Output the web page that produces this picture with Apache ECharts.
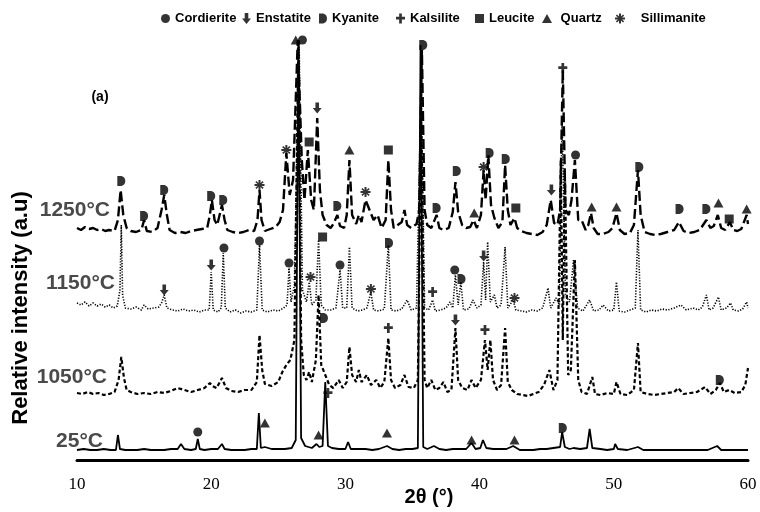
<!DOCTYPE html>
<html>
<head>
<meta charset="utf-8">
<script src="https://cdn.jsdelivr.net/npm/echarts@6/dist/echarts.min.js"></script>
<style>
  html, body { margin: 0; padding: 0; background: #fff; }
  #main { width: 760px; height: 512px; }
</style>
</head>
<body>
<div id="main"></div>
<script>
// XRD patterns, stacked (relative intensity, a.u.)
var xTicks = [10, 20, 30, 40, 50, 60];
var sampleNames = ['25°C', '1050°C', '1150°C', '1250°C'];

var trace25 = [[10,10],[10.5,11],[11,10],[11.5,10],[12,11],[12.5,10],[12.9,10],[13.05,25],[13.2,11],[13.6,10],[14,10],[14.5,10],[15,11],[15.5,10],[16,10],[16.5,10],[17,11],[17.5,11],[17.75,16],[18,11],[18.5,10],[18.85,11],[19.0,21],[19.15,11],[19.5,10],[20,11],[20.5,11],[20.8,16],[21.0,11],[21.5,10],[22,10],[22.5,10],[23,11],[23.4,11],[23.55,47],[23.7,12],[24,13],[24.5,11],[25,11],[25.5,11],[26,12],[26.3,20],[26.5,420],[26.7,22],[27,14],[27.5,12],[27.85,16],[28.05,13],[28.3,14],[28.5,78],[28.7,14],[29,12],[29.5,11],[30,11],[30.2,18],[30.4,11],[31,11],[31.5,11],[32,10],[32.5,11],[33.1,14],[33.5,11],[34,10],[34.5,11],[35,11],[35.4,12],[35.6,415],[35.8,13],[36.1,11],[36.6,14],[37,11],[37.5,10],[38,11],[38.5,11],[39,11],[39.4,17],[39.7,11],[40.05,12],[40.25,20],[40.5,12],[41,11],[41.5,11],[42,11],[42.5,14],[43,10],[43.5,10],[44,10],[44.5,11],[45,11],[45.5,12],[46,13],[46.15,28],[46.35,13],[46.7,11],[47,12],[47.5,11],[48,12],[48.2,31],[48.4,12],[49,11],[49.5,10],[50,11],[50.1,16],[50.3,11],[51,10],[51.8,13],[52.2,10],[53,10],[54,10],[55,10],[56,10],[57,10],[57.7,14],[58,10],[59,10],[60,10]];

var trace1050 = [[10,67],[10.4,66],[10.8,68],[11.2,66],[11.6,67],[12,65],[12.4,66],[12.8,68],[13.1,80],[13.3,103],[13.5,82],[13.7,70],[14,68],[14.5,66],[15,67],[15.5,66],[16,68],[16.5,67],[17,69],[17.5,72],[18,70],[18.5,68],[19,70],[19.5,72],[19.9,77],[20.1,74],[20.4,72],[20.8,82],[21.1,72],[21.5,69],[22,68],[22.5,70],[23,70],[23.4,78],[23.6,125],[23.8,90],[24,76],[24.5,74],[25,78],[25.3,88],[25.6,95],[25.9,100],[26.2,120],[26.5,420],[26.7,120],[26.9,85],[27.1,80],[27.3,88],[27.5,78],[27.8,100],[28.0,165],[28.2,95],[28.5,85],[28.8,75],[29.1,72],[29.5,80],[29.8,72],[30.1,78],[30.3,113],[30.5,85],[30.8,78],[31.0,90],[31.2,78],[31.6,85],[31.9,75],[32.3,80],[32.6,72],[32.9,78],[33.2,122],[33.4,80],[33.7,72],[34.1,75],[34.4,85],[34.7,73],[35.1,72],[35.4,80],[35.65,350],[35.9,80],[36.1,72],[36.4,80],[36.7,70],[37,72],[37.3,78],[37.6,68],[37.9,70],[38.2,132],[38.4,80],[38.7,72],[39.1,70],[39.4,80],[39.7,72],[40.1,80],[40.4,120],[40.6,90],[40.8,120],[41.0,80],[41.3,70],[41.6,75],[41.9,132],[42.1,78],[42.4,70],[42.8,66],[43.2,65],[43.6,64],[44,66],[44.4,68],[44.8,75],[45.2,90],[45.5,70],[45.8,80],[46.05,300],[46.2,120],[46.35,290],[46.6,85],[46.8,90],[47.1,200],[47.35,80],[47.6,68],[48,66],[48.4,83],[48.6,66],[49,65],[49.5,67],[50,66],[50.2,78],[50.5,66],[51,65],[51.5,70],[51.8,117],[52.0,68],[52.5,66],[53,65],[53.5,66],[54,67],[54.5,68],[54.8,72],[55.2,66],[55.7,67],[56.2,68],[56.8,73],[57.2,66],[57.6,70],[57.9,77],[58.2,68],[58.6,70],[59,67],[59.5,68],[59.8,75],[60,92]];

var trace1150 = [[10,157],[10.3,155],[10.6,158],[10.9,154],[11.2,157],[11.5,154],[11.8,156],[12.1,153],[12.4,155],[12.7,152],[13.0,154],[13.2,170],[13.3,235],[13.4,165],[13.6,152],[14,151],[14.4,153],[14.8,150],[15.0,155],[15.3,151],[15.7,152],[16.1,153],[16.3,157],[16.5,165],[16.7,152],[17.1,150],[17.5,149],[17.9,151],[18.3,149],[18.7,150],[19.1,148],[19.5,150],[19.85,150],[20.0,188],[20.15,150],[20.5,148],[20.75,152],[20.9,207],[21.05,152],[21.4,148],[21.8,150],[22.2,147],[22.6,149],[23.0,148],[23.4,150],[23.6,215],[23.8,150],[24.2,148],[24.6,150],[25.0,149],[25.4,152],[25.65,155],[25.8,192],[25.95,158],[26.2,175],[26.55,420],[26.8,170],[27.1,158],[27.3,178],[27.5,155],[27.8,160],[28.0,220],[28.2,155],[28.5,150],[28.9,150],[29.3,152],[29.6,190],[29.8,152],[30.1,152],[30.3,213],[30.5,152],[30.9,149],[31.3,150],[31.6,152],[31.9,168],[32.1,150],[32.5,149],[32.9,151],[33.2,215],[33.4,150],[33.8,149],[34.2,151],[34.6,160],[34.9,150],[35.3,152],[35.65,380],[35.9,152],[36.2,150],[36.5,160],[36.7,149],[37.1,150],[37.5,152],[37.8,158],[38.0,152],[38.2,185],[38.4,155],[38.6,178],[38.8,150],[39.2,151],[39.5,160],[39.8,152],[40.1,155],[40.3,198],[40.45,160],[40.6,218],[40.8,158],[41.1,165],[41.3,152],[41.6,155],[41.9,213],[42.1,152],[42.5,160],[42.7,150],[43.1,149],[43.5,148],[43.9,150],[44.3,149],[44.7,152],[45.1,172],[45.3,152],[45.7,162],[45.95,155],[46.15,340],[46.4,165],[46.7,158],[47.0,200],[47.3,152],[47.7,149],[48.2,160],[48.5,149],[48.9,150],[49.2,155],[49.6,149],[50.0,150],[50.2,178],[50.4,149],[50.8,148],[51.2,150],[51.6,152],[51.8,230],[52.0,150],[52.4,148],[52.8,150],[53.2,149],[53.6,151],[54,150],[54.5,152],[55.0,155],[55.4,150],[55.9,152],[56.3,150],[56.6,153],[56.9,165],[57.1,150],[57.4,152],[57.8,163],[58.0,150],[58.4,152],[58.7,157],[58.9,150],[59.3,149],[59.6,151],[59.9,158],[60,152]];

var trace1250 = [[10,232],[10.3,230],[10.6,233],[10.9,231],[11.2,232],[11.5,230],[11.8,231],[12.1,229],[12.4,230],[12.8,229],[13.05,240],[13.25,270],[13.45,245],[13.7,232],[14.0,229],[14.4,228],[14.8,230],[15.0,240],[15.2,229],[15.6,228],[16.0,232],[16.3,250],[16.5,265],[16.7,245],[16.9,230],[17.3,227],[17.7,228],[18.1,227],[18.5,229],[18.9,230],[19.3,231],[19.7,232],[19.9,245],[20.05,260],[20.25,240],[20.45,235],[20.8,255],[21.0,240],[21.2,230],[21.6,228],[22.0,227],[22.4,228],[22.8,230],[23.2,229],[23.45,240],[23.6,270],[23.75,240],[24.0,229],[24.4,231],[24.8,233],[25.1,238],[25.35,250],[25.6,307],[25.85,265],[26.1,280],[26.45,420],[26.75,300],[26.95,260],[27.2,310],[27.45,260],[27.65,250],[27.9,342],[28.1,270],[28.3,245],[28.6,235],[28.9,232],[29.1,236],[29.4,245],[29.6,234],[29.9,232],[30.1,245],[30.3,300],[30.5,245],[30.8,236],[31.0,245],[31.2,238],[31.5,260],[31.8,250],[32.1,240],[32.4,245],[32.7,232],[33.0,240],[33.2,300],[33.4,250],[33.6,232],[33.9,235],[34.2,238],[34.4,250],[34.6,235],[34.9,232],[35.3,236],[35.5,250],[35.7,410],[35.9,250],[36.1,235],[36.4,232],[36.8,245],[37.0,232],[37.3,230],[37.7,232],[38.0,248],[38.2,278],[38.4,248],[38.7,235],[39.0,232],[39.3,233],[39.55,240],[39.8,232],[40.1,245],[40.3,290],[40.45,260],[40.65,305],[40.85,255],[41.1,242],[41.4,232],[41.7,238],[41.9,295],[42.1,250],[42.3,235],[42.6,242],[42.8,232],[43.1,229],[43.5,227],[43.9,226],[44.3,225],[44.7,228],[45.0,235],[45.3,260],[45.55,237],[45.8,235],[46.0,250],[46.2,390],[46.4,250],[46.65,245],[46.85,260],[47.1,300],[47.35,240],[47.6,240],[47.9,230],[48.1,235],[48.3,247],[48.5,232],[48.8,226],[49.2,226],[49.6,228],[49.9,232],[50.2,247],[50.45,230],[50.8,226],[51.2,227],[51.5,235],[51.8,290],[52.0,245],[52.3,228],[52.7,226],[53.1,225],[53.5,226],[54.0,228],[54.5,230],[54.85,238],[55.2,229],[55.6,227],[56.0,228],[56.4,230],[56.9,240],[57.2,232],[57.45,234],[57.75,245],[58.0,232],[58.3,230],[58.65,238],[58.9,230],[59.2,229],[59.5,231],[59.9,245],[60,236]];

// phase markers [2theta, intensity]
var cordierite = [[19.0,28],[20.95,212],[23.6,219],[25.8,197],[29.6,195],[38.15,190],[26.8,420],[47.15,305]];
var enstatite = [[16.5,170],[20.0,195],[40.3,204],[38.2,140],[27.9,352],[45.35,270]];
var kyanite = [[46.2,32],[28.4,142],[57.9,80],[33.25,217],[38.65,181],[13.3,279],[15.0,244],[16.5,270],[20.0,264],[20.9,260],[29.4,254],[35.8,415],[36.8,252],[38.3,289],[40.75,307],[41.95,301],[51.9,293],[54.9,251],[56.9,251]];
var kalsilite = [[28.7,67],[33.2,132],[40.4,130],[36.5,168],[46.2,392]];
var leucite = [[28.3,223],[27.3,318],[33.2,310],[42.7,252],[58.6,241]];
var quartz = [[24.0,37],[28.0,25],[33.1,27],[39.4,20],[42.6,20],[26.3,420],[30.3,310],[39.6,247],[48.35,253],[50.2,253],[57.8,257],[59.9,251]];
var sillimanite = [[27.4,183],[31.9,171],[42.6,162],[23.6,275],[25.6,310],[31.5,268],[40.3,293]];

var phaseNames = ['Cordierite', 'Enstatite', 'Kyanite', 'Kalsilite', 'Leucite', 'Quartz', 'Sillimanite'];
var phaseData = [cordierite, enstatite, kyanite, kalsilite, leucite, quartz, sillimanite];

var ARROW = 'path://M3,0 L7,0 L7,6 L10,6 L5,12 L0,6 L3,6 Z';
var DSHAPE = 'path://M0,0 L3,0 C6.5,0 8,2.5 8,5 C8,7.5 6.5,10 3,10 L0,10 Z';
var CROSS = 'path://M3.5,0 L6.5,0 L6.5,3.5 L10,3.5 L10,6.5 L6.5,6.5 L6.5,11 L3.5,11 L3.5,6.5 L0,6.5 L0,3.5 L3.5,3.5 Z';
var STAR = 'path://M4,0 L6,0 L6,3 L8,1 L9.2,2.2 L7,4 L10,4 L10,6 L7,6 L9.2,7.8 L8,9 L6,7 L6,10 L4,10 L4,7 L2,9 L0.8,7.8 L3,6 L0,6 L0,4 L3,4 L0.8,2.2 L2,1 L4,3 Z';
var phaseSymbols = ['circle', ARROW, DSHAPE, CROSS, 'rect', 'triangle', STAR];
var phaseSizes = [[9,9], [9,11], [8,10], [9,10], [9,9], [10,9], [10,10]];
var legendLeft = [156, 237, 314, 391, 470, 537, 610];
var legendText = ['Cordierite', 'Enstatite', 'Kyanite', 'Kalsilite', 'Leucite', ' Quartz', '   Sillimanite'];

var traceSeries = [
  { name: sampleNames[0], data: trace25, lineStyle: { color: '#000', width: 1.8, type: 'solid' } },
  { name: sampleNames[1], data: trace1050, lineStyle: { color: '#000', width: 2.2, type: [4, 2.5] } },
  { name: sampleNames[2], data: trace1150, lineStyle: { color: '#000', width: 1.6, type: [1.2, 1.6] } },
  { name: sampleNames[3], data: trace1250, lineStyle: { color: '#000', width: 2.4, type: [10, 4] } }
].map(function (s) {
  s.type = 'line';
  s.showSymbol = false;
  s.symbol = 'none';
  s.silent = true;
  s.z = 2;
  return s;
});

var markerSeries = phaseNames.map(function (n, i) {
  return {
    name: n,
    type: 'scatter',
    data: phaseData[i],
    symbol: phaseSymbols[i],
    symbolSize: phaseSizes[i],
    itemStyle: { color: '#000' },
    z: 5
  };
});

// one legend box per phase so each entry sits where it does in the figure
var legends = phaseNames.map(function (n, i) {
  return {
    data: [n],
    left: legendLeft[i],
    top: 7,
    itemWidth: phaseSizes[i][0],
    itemHeight: phaseSizes[i][1],
    selectedMode: false,
    formatter: function () { return legendText[i]; },
    textStyle: { fontFamily: 'Liberation Sans, Arial', fontWeight: 'bold', fontSize: 13, color: '#000' }
  };
});

var labelY = [441, 377, 283, 210];
var labelX = [103, 107, 115, 110];

var chart = echarts.init(document.getElementById('main'));
chart.setOption({
  animation: false,
  backgroundColor: '#fff',
  legend: legends,
  grid: { left: 77, right: 12, top: 0, bottom: 52 },
  xAxis: {
    type: 'value', min: 10, max: 60, interval: 10,
    axisLine: { lineStyle: { color: '#000', width: 3 } },
    axisTick: { show: false },
    splitLine: { show: false },
    axisLabel: { color: '#000', fontFamily: 'Liberation Serif, Times New Roman', fontSize: 17, margin: 16,
      formatter: function (v) { return xTicks.indexOf(v) >= 0 ? String(v) : ''; } }
  },
  yAxis: {
    type: 'value', min: 0, max: 460,
    show: false
  },
  graphic: sampleNames.map(function (t, i) {
    return {
      type: 'text', z: 10,
      style: { text: t, x: labelX[i], y: labelY[i], textAlign: 'right', textVerticalAlign: 'middle',
        font: 'bold 21px "Liberation Sans", Arial', fill: '#4a4a4a' }
    };
  }).concat([
    { type: 'text', z: 10, style: { text: '(a)', x: 100, y: 97, textAlign: 'center', textVerticalAlign: 'middle',
      font: 'bold 14px "Liberation Sans", Arial', fill: '#000' } },
    { type: 'text', z: 10, x: 21, y: 308, rotation: Math.PI / 2,
      style: { text: 'Relative intensity (a.u)', x: 0, y: 0, textAlign: 'center', textVerticalAlign: 'middle',
        font: 'bold 22px "Liberation Sans", Arial', fill: '#000' } },
    { type: 'text', z: 10, style: { text: '2θ (°)', x: 429, y: 497, textAlign: 'center', textVerticalAlign: 'middle',
      font: 'bold 20px "Liberation Sans", Arial', fill: '#000' } }
  ]),
  series: traceSeries.concat(markerSeries)
});
</script>
</body>
</html>
